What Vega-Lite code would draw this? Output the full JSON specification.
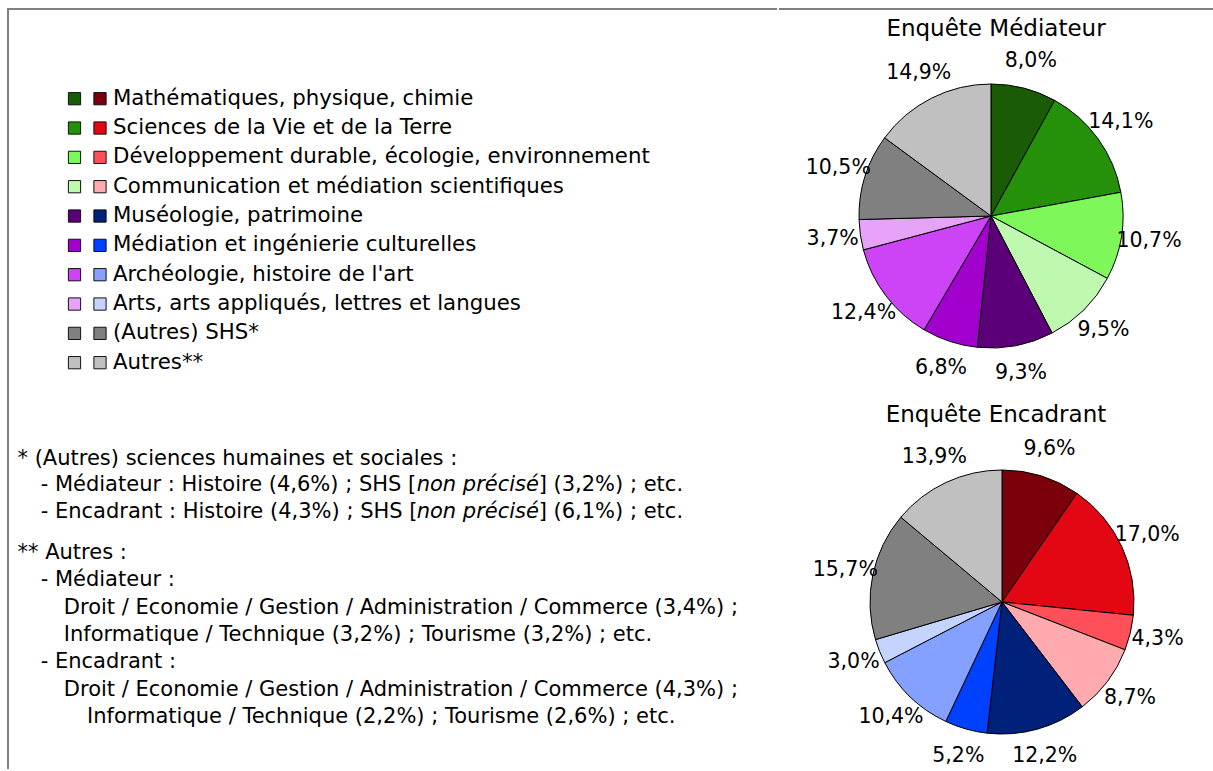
{
  "$schema": "https://vega.github.io/schema/vega-lite/v6.json",
  "padding": {"left": 7, "top": 8, "right": 0, "bottom": 0},
  "background": "white",
  "spacing": 0,
  "config": {
    "locale": {"number": {"decimal": ",", "thousands": " ", "grouping": [3], "currency": ["", " €"]}},
    "font": "DejaVu Sans",
    "view": {"stroke": null}
  },
  "datasets": {
    "shares": [
      {"survey": "Médiateur", "category": "Mathématiques, physique, chimie", "share": 0.080},
      {"survey": "Médiateur", "category": "Sciences de la Vie et de la Terre", "share": 0.141},
      {"survey": "Médiateur", "category": "Développement durable, écologie, environnement", "share": 0.107},
      {"survey": "Médiateur", "category": "Communication et médiation scientifiques", "share": 0.095},
      {"survey": "Médiateur", "category": "Muséologie, patrimoine", "share": 0.093},
      {"survey": "Médiateur", "category": "Médiation et ingénierie culturelles", "share": 0.068},
      {"survey": "Médiateur", "category": "Archéologie, histoire de l'art", "share": 0.124},
      {"survey": "Médiateur", "category": "Arts, arts appliqués, lettres et langues", "share": 0.037},
      {"survey": "Médiateur", "category": "(Autres) SHS*", "share": 0.105},
      {"survey": "Médiateur", "category": "Autres**", "share": 0.149},
      {"survey": "Encadrant", "category": "Mathématiques, physique, chimie", "share": 0.096},
      {"survey": "Encadrant", "category": "Sciences de la Vie et de la Terre", "share": 0.170},
      {"survey": "Encadrant", "category": "Développement durable, écologie, environnement", "share": 0.043},
      {"survey": "Encadrant", "category": "Communication et médiation scientifiques", "share": 0.087},
      {"survey": "Encadrant", "category": "Muséologie, patrimoine", "share": 0.122},
      {"survey": "Encadrant", "category": "Médiation et ingénierie culturelles", "share": 0.052},
      {"survey": "Encadrant", "category": "Archéologie, histoire de l'art", "share": 0.104},
      {"survey": "Encadrant", "category": "Arts, arts appliqués, lettres et langues", "share": 0.030},
      {"survey": "Encadrant", "category": "(Autres) SHS*", "share": 0.157},
      {"survey": "Encadrant", "category": "Autres**", "share": 0.139}
    ],
    "surveys": [
      {"survey": "Médiateur", "title": "Enquête Médiateur"},
      {"survey": "Encadrant", "title": "Enquête Encadrant"}
    ],
    "notes": [
      {"block": 1, "line": 1, "level": 0, "seg": "pre", "text": "* (Autres) sciences humaines et sociales :"},
      {"block": 1, "line": 2, "level": 1, "seg": "pre", "text": "- Médiateur : Histoire (4,6%) ; SHS ["},
      {"block": 1, "line": 2, "level": 1, "seg": "it", "text": "non précisé"},
      {"block": 1, "line": 2, "level": 1, "seg": "post", "text": "] (3,2%) ; etc."},
      {"block": 1, "line": 3, "level": 1, "seg": "pre", "text": "- Encadrant : Histoire (4,3%) ; SHS ["},
      {"block": 1, "line": 3, "level": 1, "seg": "it", "text": "non précisé"},
      {"block": 1, "line": 3, "level": 1, "seg": "post", "text": "] (6,1%) ; etc."},
      {"block": 2, "line": 1, "level": 0, "seg": "pre", "text": "** Autres :"},
      {"block": 2, "line": 2, "level": 1, "seg": "pre", "text": "- Médiateur :"},
      {"block": 2, "line": 3, "level": 2, "seg": "pre", "text": "Droit / Economie / Gestion / Administration / Commerce (3,4%) ;"},
      {"block": 2, "line": 4, "level": 2, "seg": "pre", "text": "Informatique / Technique (3,2%) ; Tourisme (3,2%) ; etc."},
      {"block": 2, "line": 5, "level": 1, "seg": "pre", "text": "- Encadrant :"},
      {"block": 2, "line": 6, "level": 2, "seg": "pre", "text": "Droit / Economie / Gestion / Administration / Commerce (4,3%) ;"},
      {"block": 2, "line": 7, "level": 3, "seg": "pre", "text": "Informatique / Technique (2,2%) ; Tourisme (2,6%) ; etc."}
    ]
  },
  "hconcat": [
    {
      "width": 769,
      "height": 760,
      "view": {"stroke": "#808080", "strokeWidth": 2, "strokeDash": [769, 1529, 5000]},
      "layer": [
        {
          "data": {"name": "shares"},
          "encoding": {
            "y": {"field": "category", "type": "nominal", "sort": null, "scale": {"type": "point", "padding": 0, "range": [89.7, 353.7]}, "axis": null}
          },
          "layer": [
            {
              "transform": [{"filter": "datum.survey === 'Médiateur'"}],
              "mark": {"type": "square", "size": 150, "opacity": 1, "stroke": "#111111", "strokeWidth": 1},
              "encoding": {
                "x": {"field": "survey", "type": "nominal", "scale": {"type": "point", "padding": 0, "domain": ["Médiateur", "Encadrant"], "range": [66.5, 92]}, "axis": null},
                "color": {"field": "category", "type": "nominal", "sort": null, "legend": null,
                  "scale": {"range": ["#1a5c05", "#259009", "#7ef75a", "#bff9b0", "#5b0078", "#a200cc", "#cc44f5", "#e6a3f7", "#808080", "#c0c0c0"]}}
              }
            },
            {
              "transform": [{"filter": "datum.survey === 'Encadrant'"}],
              "mark": {"type": "square", "size": 150, "opacity": 1, "stroke": "#111111", "strokeWidth": 1},
              "encoding": {
                "x": {"field": "survey", "type": "nominal", "scale": {"type": "point", "padding": 0, "domain": ["Médiateur", "Encadrant"], "range": [66.5, 92]}, "axis": null},
                "color": {"field": "category", "type": "nominal", "sort": null, "legend": null,
                  "scale": {"range": ["#7a000b", "#e30613", "#ff4f59", "#ffaaae", "#00217a", "#0040ff", "#85a1ff", "#c5d3ff", "#808080", "#c0c0c0"]}}
              }
            },
            {
              "transform": [{"filter": "datum.survey === 'Encadrant'"}],
              "mark": {"type": "text", "align": "left", "baseline": "middle", "dx": 13, "font": "DejaVu Sans", "fontSize": 21.3, "color": "black"},
              "encoding": {
                "x": {"datum": "Encadrant", "type": "nominal", "scale": {"type": "point", "padding": 0, "domain": ["Médiateur", "Encadrant"], "range": [66.5, 92]}, "axis": null},
                "text": {"field": "category", "type": "nominal"}
              }
            }
          ],
          "resolve": {"scale": {"color": "independent"}}
        },
        {
          "data": {"name": "notes"},
          "transform": [{"filter": "datum.block === 1"}],
          "encoding": {
            "y": {"field": "line", "type": "ordinal", "scale": {"type": "point", "padding": 0, "range": [449.5, 503]}, "axis": null},
            "x": {"field": "level", "type": "ordinal", "scale": {"type": "point", "padding": 0, "domain": [0, 1, 2, 3], "range": [9.5, 79]}, "axis": null},
            "text": {"field": "text", "type": "nominal"}
          },
          "layer": [
            {"transform": [{"filter": "datum.seg === 'pre'"}], "mark": {"type": "text", "align": "left", "baseline": "middle", "font": "DejaVu Sans", "fontSize": 21, "color": "black"}},
            {"transform": [{"filter": "datum.seg === 'it'"}], "mark": {"type": "text", "align": "left", "baseline": "middle", "dx": 376, "font": "DejaVu Sans", "fontStyle": "italic", "fontSize": 21, "color": "black"}},
            {"transform": [{"filter": "datum.seg === 'post'"}], "mark": {"type": "text", "align": "left", "baseline": "middle", "dx": 498, "font": "DejaVu Sans", "fontSize": 21, "color": "black"}}
          ]
        },
        {
          "data": {"name": "notes"},
          "transform": [{"filter": "datum.block === 2"}],
          "mark": {"type": "text", "align": "left", "baseline": "middle", "font": "DejaVu Sans", "fontSize": 21, "color": "black"},
          "encoding": {
            "y": {"field": "line", "type": "ordinal", "scale": {"type": "point", "padding": 0, "range": [544, 708]}, "axis": null},
            "x": {"field": "level", "type": "ordinal", "scale": {"type": "point", "padding": 0, "domain": [0, 1, 2, 3], "range": [9.5, 79]}, "axis": null},
            "text": {"field": "text", "type": "nominal"}
          }
        }
      ],
      "resolve": {"scale": {"x": "independent", "y": "independent", "color": "independent"}}
    },
    {
      "width": 434,
      "height": 760,
      "view": {"stroke": "#808080", "strokeWidth": 2, "strokeDash": [434, 5000]},
      "layer": [
        {
          "data": {"name": "surveys"},
          "mark": {"type": "text", "baseline": "middle", "dy": -187, "font": "DejaVu Sans", "fontSize": 23, "color": "black"},
          "encoding": {
            "y": {"field": "survey", "type": "nominal", "scale": {"type": "point", "padding": 0, "domain": ["Médiateur", "Encadrant"], "range": [207, 593]}, "axis": null},
            "text": {"field": "title", "type": "nominal"}
          }
        },
        {
          "data": {"name": "shares"},
          "transform": [{"filter": "datum.survey === 'Médiateur'"}, {"window": [{"op": "row_number", "as": "idx"}]}],
          "encoding": {
            "theta": {"field": "share", "type": "quantitative", "stack": true},
            "order": {"field": "idx", "type": "quantitative"},
            "detail": {"field": "category", "type": "nominal"},
            "x": {"field": "survey", "type": "nominal", "scale": {"type": "point", "padding": 0, "domain": ["Médiateur", "Encadrant"], "range": [212, 223]}, "axis": null},
            "y": {"field": "survey", "type": "nominal", "scale": {"type": "point", "padding": 0, "domain": ["Médiateur", "Encadrant"], "range": [207, 593]}, "axis": null}
          },
          "layer": [
            {
              "mark": {"type": "arc", "outerRadius": 132, "stroke": "black", "strokeWidth": 1},
              "encoding": {
                "color": {"field": "category", "type": "nominal", "sort": null, "legend": null,
                  "scale": {"range": ["#1a5c05", "#259009", "#7ef75a", "#bff9b0", "#5b0078", "#a200cc", "#cc44f5", "#e6a3f7", "#808080", "#c0c0c0"]}}
              }
            },
            {
              "mark": {"type": "text", "radius": 160, "baseline": "middle", "align": "center", "font": "DejaVu Sans", "fontSize": 20.5, "color": "black"},
              "encoding": {"text": {"field": "share", "type": "quantitative", "format": ".1%"}}
            }
          ]
        },
        {
          "data": {"name": "shares"},
          "transform": [{"filter": "datum.survey === 'Encadrant'"}, {"window": [{"op": "row_number", "as": "idx"}]}],
          "encoding": {
            "theta": {"field": "share", "type": "quantitative", "stack": true},
            "order": {"field": "idx", "type": "quantitative"},
            "detail": {"field": "category", "type": "nominal"},
            "x": {"field": "survey", "type": "nominal", "scale": {"type": "point", "padding": 0, "domain": ["Médiateur", "Encadrant"], "range": [212, 223]}, "axis": null},
            "y": {"field": "survey", "type": "nominal", "scale": {"type": "point", "padding": 0, "domain": ["Médiateur", "Encadrant"], "range": [207, 593]}, "axis": null}
          },
          "layer": [
            {
              "mark": {"type": "arc", "outerRadius": 132, "stroke": "black", "strokeWidth": 1},
              "encoding": {
                "color": {"field": "category", "type": "nominal", "sort": null, "legend": null,
                  "scale": {"range": ["#7a000b", "#e30613", "#ff4f59", "#ffaaae", "#00217a", "#0040ff", "#85a1ff", "#c5d3ff", "#808080", "#c0c0c0"]}}
              }
            },
            {
              "mark": {"type": "text", "radius": 160, "baseline": "middle", "align": "center", "font": "DejaVu Sans", "fontSize": 20.5, "color": "black"},
              "encoding": {"text": {"field": "share", "type": "quantitative", "format": ".1%"}}
            }
          ]
        }
      ],
      "resolve": {"scale": {"theta": "independent", "color": "independent"}}
    }
  ]
}
